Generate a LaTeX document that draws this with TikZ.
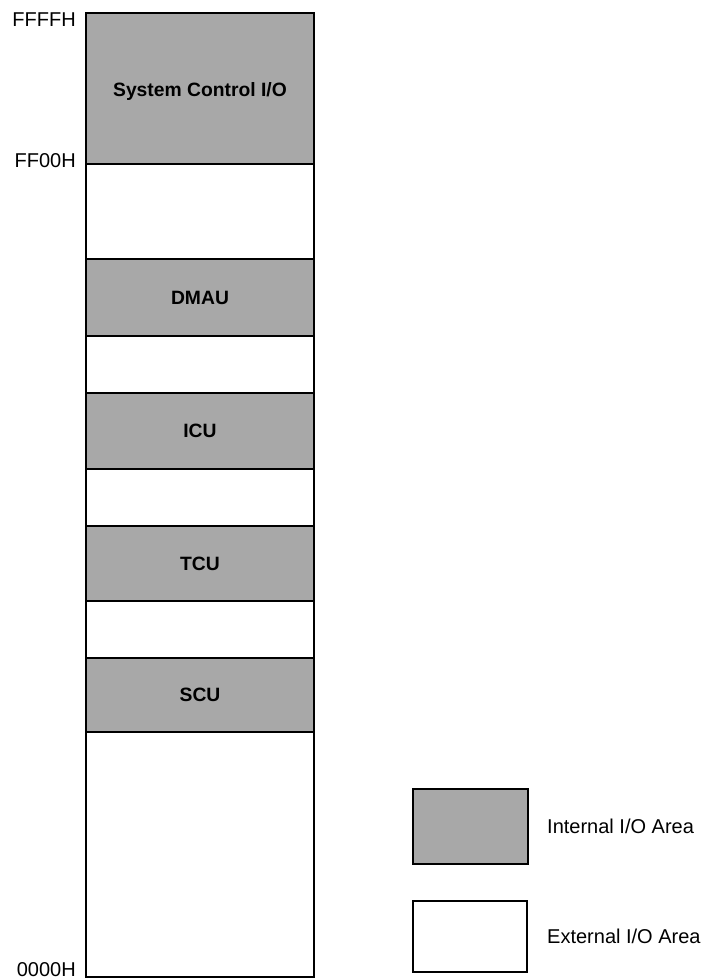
\documentclass[tikz,border=0pt]{standalone}
\usepackage{fontspec}
\setmainfont{Liberation Sans}
\usetikzlibrary{positioning}
\newcommand{\lbl}{\fontsize{20}{24}\selectfont}
\newcommand{\boxlbl}{\fontsize{19.3}{23}\selectfont\bfseries}
\definecolor{ioGray}{RGB}{168,168,168}
\tikzset{
  intarea/.style={draw,line width=1.5pt,fill=ioGray,minimum width=228pt,
                  outer sep=0pt,inner sep=0pt,font=\boxlbl},
  extarea/.style={draw,line width=1.5pt,fill=white,minimum width=228pt,
                  outer sep=0pt,inner sep=0pt,font=\boxlbl},
  addr/.style={font=\lbl,inner sep=0pt},
  frame/.style={draw,line width=2.5pt},
}
\begin{document}
\begin{tikzpicture}[x=1pt,y=-1pt]
  \useasboundingbox (0,0) rectangle (706,980);

  % I/O address map
  \node[intarea,minimum height=151pt] (sysio) at (200,88.5) {};
  \node[extarea,minimum height=95pt,below=0pt of sysio] (ext1) {};
  \node[intarea,minimum height=77pt,below=0pt of ext1] (dmau) {DMAU};
  \node[extarea,minimum height=57pt,below=0pt of dmau] (ext2) {};
  \node[intarea,minimum height=76pt,below=0pt of ext2] (icu) {ICU};
  \node[extarea,minimum height=57pt,below=0pt of icu] (ext3) {};
  \node[intarea,minimum height=75pt,below=0pt of ext3] (tcu) {TCU};
  \node[extarea,minimum height=57pt,below=0pt of tcu] (ext4) {};
  \node[intarea,minimum height=74pt,below=0pt of ext4] (scu) {SCU};
  \node[extarea,minimum height=245pt,below=0pt of scu] (ext5) {};
  \node[font=\boxlbl,inner sep=0pt] (sysname) at ([yshift=-3pt]sysio.center) {System Control I/O};

  \draw[frame] (sysio.north west) rectangle (ext5.south east);

  \node[addr,anchor=north east] (ffff) at ([xshift=-10pt]sysio.north west) {FFFFH};
  \node[addr,anchor=base east] (ff00) at ([xshift=-10pt,yshift=-3pt]sysio.south west) {FF00H};
  \node[addr,anchor=base east] (zero) at ([xshift=-10pt,yshift=1pt]ext5.south west) {0000H};

  % legend
  \node[intarea,frame,minimum width=115pt,minimum height=75pt] (intkey) at (470.5,826.5) {};
  \node[addr,right=19pt of intkey] (inttxt) {Internal I/O Area};
  \node[extarea,frame,minimum width=114pt,minimum height=71pt] (extkey) at (470,936.5) {};
  \node[addr,right=20pt of extkey] (exttxt) {External I/O Area};
\end{tikzpicture}
\end{document}
